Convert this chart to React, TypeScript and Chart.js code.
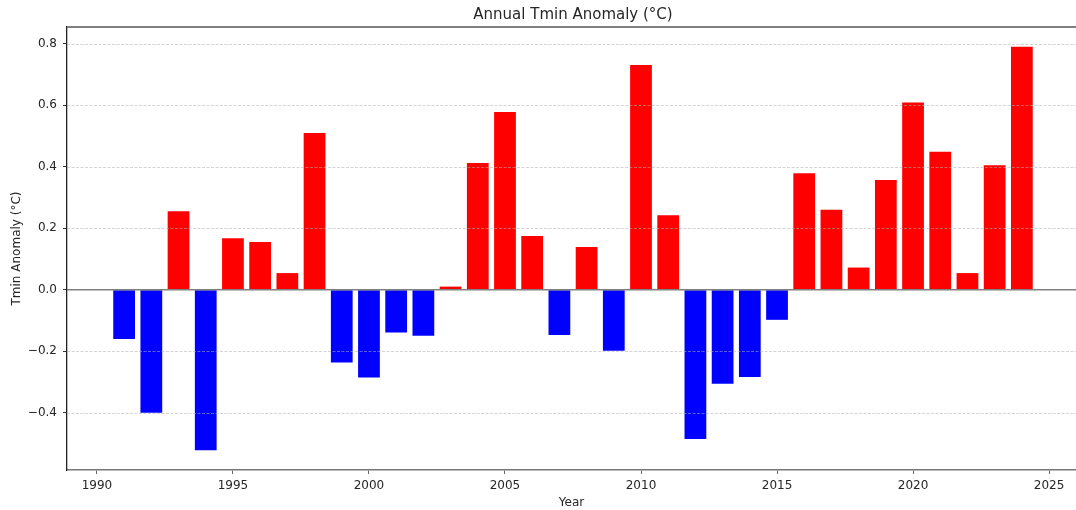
import React, { useEffect, useRef } from "react";
import { Chart, registerables } from "chart.js";

Chart.register(...registerables);

// Annual minimum-temperature anomalies (°C), one value per year
const years = [
  1991, 1992, 1993, 1994, 1995, 1996, 1997, 1998, 1999, 2000,
  2001, 2002, 2003, 2004, 2005, 2006, 2007, 2008, 2009, 2010,
  2011, 2012, 2013, 2014, 2015, 2016, 2017, 2018, 2019, 2020,
  2021, 2022, 2023, 2024,
];
const anomalies = [
  -0.16, -0.4, 0.255, -0.522, 0.167, 0.155, 0.054, 0.51, -0.237, -0.286,
  -0.139, -0.15, 0.01, 0.412, 0.578, 0.175, -0.147, 0.139, -0.199, 0.731,
  0.242, -0.486, -0.306, -0.284, -0.098, 0.379, 0.26, 0.072, 0.357, 0.609,
  0.449, 0.054, 0.405, 0.79,
];

const xTickValues = [1990, 1995, 2000, 2005, 2010, 2015, 2020, 2025];
const yTickValues = [-0.4, -0.2, 0.0, 0.2, 0.4, 0.6, 0.8];

const chartTitle = "Annual Tmin Anomaly (°C)";
const xAxisLabel = "Year";
const yAxisLabel = "Tmin Anomaly (°C)";

const FONT = "'DejaVu Sans', 'Liberation Sans', sans-serif";
const TEXT_COLOR = "#262626";

// Dashed horizontal grid, zero reference line, top spine and the title centred over the plot area
const overlayLines = {
  id: "overlayLines",
  afterDatasetsDraw(chart: any) {
    const { ctx, chartArea, scales } = chart;
    const y = scales.y;
    ctx.save();
    ctx.beginPath();
    ctx.rect(chartArea.left, chartArea.top - 2, chartArea.right - chartArea.left, chartArea.bottom - chartArea.top + 4);
    ctx.clip();

    ctx.setLineDash([3, 1.5]);
    ctx.strokeStyle = "rgba(175,175,175,0.6)";
    ctx.lineWidth = 0.9;
    for (const t of y.ticks) {
      if (t.value === 0) continue;
      const py = Math.round(y.getPixelForValue(t.value)) + 0.5;
      ctx.beginPath();
      ctx.moveTo(chartArea.left, py);
      ctx.lineTo(chartArea.right, py);
      ctx.stroke();
    }

    ctx.setLineDash([]);
    ctx.strokeStyle = "#808080";
    ctx.lineWidth = 1.6;
    const y0 = y.getPixelForValue(0);
    ctx.beginPath();
    ctx.moveTo(chartArea.left, y0);
    ctx.lineTo(chartArea.right, y0);
    ctx.stroke();

    ctx.lineWidth = 2;
    ctx.beginPath();
    ctx.moveTo(chartArea.left, chartArea.top);
    ctx.lineTo(chartArea.right + 4, chartArea.top);
    ctx.stroke();
    ctx.restore();

    ctx.save();
    ctx.fillStyle = TEXT_COLOR;
    ctx.font = `15px ${FONT}`;
    ctx.textAlign = "center";
    ctx.textBaseline = "middle";
    ctx.fillText(chartTitle, (chartArea.left + chartArea.right + 3) / 2, 15);
    ctx.restore();
  },
};

function formatY(v: number): string {
  const s = Math.abs(v).toFixed(1);
  return v < -1e-9 ? "\u2212" + s : s;
}

export default function App() {
  const canvasRef = useRef<HTMLCanvasElement | null>(null);

  useEffect(() => {
    const canvas = canvasRef.current;
    if (!canvas) return;
    const tickFont = { family: FONT, size: 12 };
    const chart = new Chart(canvas, {
      type: "bar",
      data: {
        datasets: [
          {
            data: years.map((yr, i) => ({ x: yr, y: anomalies[i] })),
            backgroundColor: anomalies.map((v) => (v >= 0 ? "#ff0000" : "#0000ff")),
            borderWidth: 0,
            categoryPercentage: 1,
            barPercentage: 0.8,
          } as any,
        ],
      },
      options: {
        responsive: false,
        animation: false,
        layout: { padding: { top: 27, left: 0, right: 0, bottom: 0 } },
        plugins: {
          legend: { display: false },
          tooltip: { enabled: false },
          title: { display: false },
        },
        scales: {
          x: {
            type: "linear",
            min: 1988.9,
            max: 2025.99,
            offset: false,
            afterBuildTicks: (s: any) => {
              s.ticks = xTickValues.map((v) => ({ value: v }));
            },
            afterFit: (s: any) => {
              s.height = 40;
            },
            ticks: {
              font: tickFont,
              color: TEXT_COLOR,
              padding: 4.5,
              maxRotation: 0,
              autoSkip: false,
              callback: (v: any) => String(v),
            },
            grid: { display: true, drawOnChartArea: false, tickLength: 4, color: "#666", offset: false },
            border: { color: "#777", width: 1.5 },
            title: {
              display: true,
              text: xAxisLabel,
              color: TEXT_COLOR,
              font: { family: FONT, size: 12 },
              padding: 0,
            },
          },
          y: {
            min: -0.5865,
            max: 0.8545,
            afterBuildTicks: (s: any) => {
              s.ticks = yTickValues.map((v) => ({ value: v }));
            },
            afterFit: (s: any) => {
              s.width = 67;
            },
            ticks: {
              font: tickFont,
              color: TEXT_COLOR,
              padding: 6,
              callback: (v: any) => formatY(Number(v)),
            },
            grid: { display: true, drawOnChartArea: false, tickLength: 4, color: "#333" },
            border: { color: "#222", width: 1.3 },
            title: {
              display: true,
              text: yAxisLabel,
              color: TEXT_COLOR,
              font: { family: FONT, size: 12 },
              padding: { top: 10, bottom: 0 },
            },
          },
        },
      },
      plugins: [overlayLines],
    } as any);
    return () => chart.destroy();
  }, []);

  return (
    <div style={{ position: "absolute", left: 0, top: 0, width: 1076, height: 510, background: "#fff" }}>
      <canvas ref={canvasRef} width={1076} height={510} style={{ display: "block" }} />
    </div>
  );
}
